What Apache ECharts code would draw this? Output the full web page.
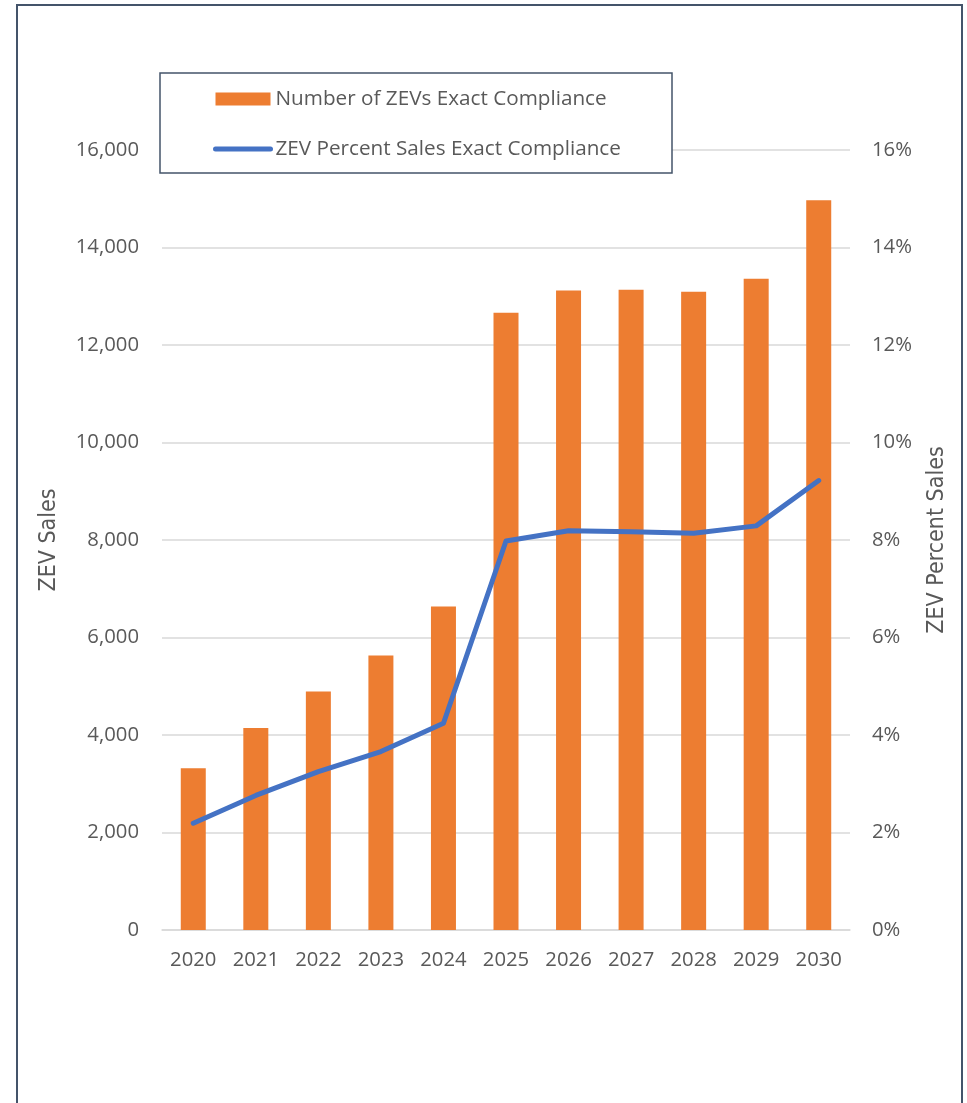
<!DOCTYPE html>
<html>
<head>
<meta charset="utf-8">
<script src="https://cdn.jsdelivr.net/npm/echarts@6/dist/echarts.min.js"></script>
<style>
html,body{margin:0;padding:0;background:#fff;}
#chart{width:967px;height:1103px;}
</style>
</head>
<body>
<div id="chart"></div>
<script>
const years = ['2020','2021','2022','2023','2024','2025','2026','2027','2028','2029','2030'];
const zevCounts = [3320, 4146, 4893, 5632, 6638, 12662, 13119, 13133, 13092, 13359, 14967];
const zevPercent = [2.19, 2.76, 3.25, 3.66, 4.24, 7.98, 8.19, 8.17, 8.14, 8.29, 9.22];
const barName = 'Number of ZEVs Exact Compliance';
const lineName = 'ZEV Percent Sales Exact Compliance';

const textColor = '#595959';
const tickFont = '"Open Sans", "Noto Sans", sans-serif';
const nameFont = '"Liberation Sans Narrow", "DejaVu Sans Condensed", sans-serif';

const chart = echarts.init(document.getElementById('chart'), null, {renderer: 'canvas'});
chart.setOption({
  animation: false,
  backgroundColor: '#ffffff',
  graphic: [
    {type: 'rect', shape: {x: 17, y: 5, width: 945, height: 1120},
     style: {fill: 'none', stroke: '#44546a', lineWidth: 2}, z: -1},
    {type: 'rect', shape: {x: 160, y: 73, width: 512, height: 100},
     style: {fill: '#ffffff', stroke: '#44546a', lineWidth: 1.5}, z: 5}
  ],
  legend: {
    orient: 'vertical',
    left: 208,
    top: 83,
    itemWidth: 55,
    itemHeight: 13,
    itemGap: 28,
    z: 10,
    textStyle: {fontFamily: tickFont, fontSize: 20.7, color: textColor, lineHeight: 22},
    data: [
      {name: barName, icon: 'rect'},
      {name: lineName,
       itemStyle: {color: 'rgba(0,0,0,0)', borderWidth: 0, borderColor: 'rgba(0,0,0,0)'},
       lineStyle: {width: 5, cap: 'round', color: '#4472c4'}}
    ]
  },
  grid: {left: 162, right: 117, top: 150, bottom: 173},
  xAxis: {
    type: 'category',
    data: years,
    axisLine: {lineStyle: {color: '#d9d9d9', width: 1.5}},
    axisTick: {show: false},
    axisLabel: {fontFamily: tickFont, fontSize: 20.3, color: textColor, margin: 20}
  },
  yAxis: [
    {
      type: 'value', min: 0, max: 16000, interval: 2000,
      name: 'ZEV Sales', nameLocation: 'middle', nameRotate: 90, nameGap: 101,
      nameTextStyle: {fontFamily: nameFont, fontSize: 23, color: textColor},
      axisLine: {show: false}, axisTick: {show: false},
      axisLabel: {fontFamily: tickFont, fontSize: 20.3, color: textColor, margin: 23,
        formatter: v => v.toLocaleString('en-US')},
      splitLine: {lineStyle: {color: '#d9d9d9', width: 1.5}}
    },
    {
      type: 'value', min: 0, max: 16, interval: 2,
      name: 'ZEV Percent Sales', nameLocation: 'middle', nameRotate: 90, nameGap: 76,
      nameTextStyle: {fontFamily: nameFont, fontSize: 23, color: textColor},
      axisLine: {show: false}, axisTick: {show: false},
      axisLabel: {fontFamily: tickFont, fontSize: 20.3, color: textColor, margin: 22,
        formatter: v => v + '%'},
      splitLine: {show: false}
    }
  ],
  series: [
    {
      name: barName, type: 'bar', data: zevCounts, barWidth: 25,
      itemStyle: {color: '#ed7d31'}
    },
    {
      name: lineName, type: 'line', yAxisIndex: 1, data: zevPercent,
      symbol: 'none', showSymbol: false,
      lineStyle: {color: '#4472c4', width: 5, cap: 'round', join: 'round'},
      itemStyle: {color: '#4472c4'}, z: 3
    }
  ]
});
</script>
</body>
</html>
